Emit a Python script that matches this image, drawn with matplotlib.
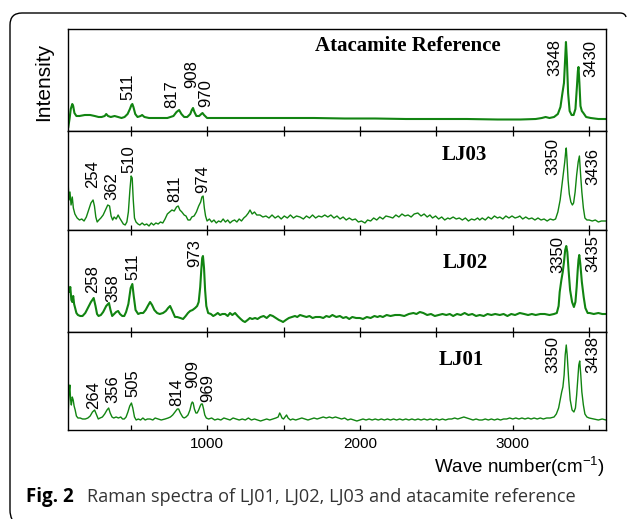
import matplotlib
matplotlib.use("Agg")
import matplotlib.pyplot as plt
import numpy as np
from matplotlib.path import Path
from matplotlib.patches import PathPatch

plt.rcParams['font.family'] = ['Liberation Sans', 'DejaVu Sans']
plt.rcParams['mathtext.fontset'] = 'custom'
plt.rcParams['mathtext.rm'] = 'Liberation Sans'
plt.rcParams['mathtext.it'] = 'Liberation Sans'

# spectra: (wave number, intensity in arbitrary units)
atacamite = [(92, 4), (100, 12), (108, 22), (118, 27), (124, 25), (132, 18), (145, 15), (165, 15), (200, 16),
             (235, 16), (265, 15), (290, 14), (310, 14), (330, 15), (340, 17), (352, 15), (370, 14), (395, 15),
             (418, 14), (440, 13), (460, 14), (480, 17), (495, 22), (505, 26), (511, 27), (518, 24), (530, 17),
             (545, 14), (565, 15), (575, 16), (590, 14), (620, 13), (680, 13), (740, 13), (780, 15), (800, 19),
             (817, 21), (832, 17), (850, 14), (870, 14), (890, 17), (900, 21), (908, 23), (917, 19), (930, 15),
             (948, 15), (962, 17), (970, 18), (980, 16), (1000, 13), (1100, 13), (1300, 13), (1500, 13),
             (1700, 13), (1900, 12.5), (2100, 12.5), (2300, 12), (2500, 12), (2700, 12), (2900, 11.5),
             (3050, 11.5), (3150, 12), (3190, 13), (3215, 14), (3240, 13), (3270, 14), (3295, 17), (3312, 24),
             (3325, 38), (3335, 48), (3342, 70), (3348, 89), (3354, 72), (3362, 38), (3372, 20), (3385, 16),
             (3398, 16), (3410, 22), (3420, 45), (3426, 60), (3430, 64), (3436, 48), (3443, 25), (3452, 20),
             (3462, 18), (3480, 14), (3510, 13), (3560, 12), (3610, 12)]

lj03 = [(92, 43), (97, 30), (103, 38), (110, 25), (118, 33), (125, 22), (135, 16), (150, 12), (165, 10), (180, 11),
        (195, 9), (210, 13), (225, 20), (240, 27), (254, 30), (263, 24), (272, 13), (281, 8), (292, 10), (305, 12),
        (320, 15), (335, 20), (350, 25), (362, 24), (372, 14), (382, 10), (392, 13), (405, 11), (418, 15),
        (428, 12), (440, 9), (452, 6), (464, 5), (475, 8), (485, 18), (495, 40), (503, 54), (510, 52), (517, 30),
        (525, 12), (535, 8), (548, 6), (560, 5), (575, 7), (590, 5), (605, 6), (620, 4), (635, 7), (650, 5),
        (665, 7), (680, 6), (695, 8), (710, 7), (725, 11), (740, 16), (755, 18), (770, 20), (785, 19), (800, 23),
        (811, 24), (822, 20), (835, 18), (850, 15), (862, 14), (875, 10), (889, 10), (900, 13), (915, 14),
        (930, 18), (945, 24), (958, 28), (966, 33), (974, 34), (982, 22), (990, 14), (1000, 9), (1015, 11),
        (1030, 8), (1045, 10), (1060, 7), (1075, 9), (1090, 8), (1105, 11), (1120, 8), (1135, 10), (1150, 7),
        (1165, 9), (1180, 10), (1195, 8), (1210, 11), (1225, 9), (1240, 12), (1255, 14), (1270, 17), (1281, 20),
        (1295, 16), (1310, 18), (1325, 15), (1346, 15), (1365, 13), (1385, 14), (1405, 12), (1425, 15),
        (1445, 12), (1465, 14), (1485, 11), (1505, 14), (1525, 12), (1545, 15), (1565, 12), (1585, 14),
        (1608, 13), (1630, 11), (1650, 14), (1670, 12), (1690, 15), (1710, 12), (1730, 14), (1750, 13),
        (1770, 15), (1790, 13), (1810, 15), (1830, 12), (1850, 14), (1870, 11), (1890, 13), (1910, 10),
        (1930, 12), (1950, 10), (1970, 11), (1990, 8), (2010, 9), (2033, 7), (2050, 10), (2070, 9), (2090, 12),
        (2110, 10), (2130, 13), (2150, 11), (2170, 14), (2196, 13), (2215, 12), (2235, 15), (2255, 13),
        (2275, 16), (2295, 14), (2315, 15), (2335, 13), (2355, 16), (2379, 17), (2400, 14), (2420, 16),
        (2440, 13), (2458, 15), (2475, 12), (2495, 14), (2515, 11), (2535, 13), (2555, 10), (2575, 12),
        (2588, 11), (2610, 13), (2630, 11), (2650, 12), (2670, 10), (2690, 12), (2710, 9), (2730, 11),
        (2750, 10), (2770, 12), (2784, 10), (2800, 12), (2820, 10), (2840, 13), (2860, 11), (2880, 14),
        (2900, 12), (2915, 13), (2935, 11), (2955, 14), (2975, 12), (2995, 14), (3015, 12), (3035, 13),
        (3046, 14), (3065, 11), (3085, 13), (3105, 11), (3125, 12), (3145, 10), (3165, 12), (3185, 10),
        (3205, 11), (3225, 9), (3245, 11), (3265, 10), (3280, 11), (3295, 18), (3310, 30), (3322, 45),
        (3332, 58), (3340, 68), (3346, 78), (3350, 82), (3355, 70), (3362, 50), (3370, 36), (3380, 28),
        (3390, 25), (3398, 27), (3408, 38), (3418, 55), (3428, 68), (3436, 74), (3444, 55), (3452, 38),
        (3462, 22), (3472, 12), (3485, 10), (3500, 10), (3520, 9), (3540, 10), (3560, 8), (3580, 9), (3610, 9)]

lj02 = [(92, 45), (98, 40), (105, 45), (112, 32), (118, 30), (124, 36), (130, 28), (137, 24), (145, 19), (155, 17),
        (170, 16), (185, 16), (203, 19), (220, 24), (240, 30), (258, 34), (270, 26), (280, 18), (290, 16),
        (305, 17), (320, 20), (340, 26), (358, 29), (368, 22), (379, 16), (392, 18), (405, 20), (418, 21),
        (430, 18), (445, 16), (458, 16), (470, 20), (485, 28), (500, 44), (511, 48), (520, 36), (532, 22),
        (549, 18), (565, 19), (582, 19), (598, 22), (612, 26), (627, 30), (640, 27), (655, 22), (673, 19),
        (690, 18), (712, 19), (730, 21), (745, 24), (758, 26), (770, 22), (790, 15), (804, 15), (825, 14),
        (843, 13), (860, 16), (875, 19), (889, 21), (905, 22), (922, 24), (935, 26), (945, 30), (955, 45),
        (962, 62), (968, 74), (973, 76), (980, 64), (987, 42), (995, 26), (1007, 19), (1025, 18), (1040, 16),
        (1052, 17), (1070, 19), (1085, 17), (1100, 18), (1118, 18), (1135, 16), (1150, 19), (1165, 17),
        (1183, 19), (1200, 16), (1220, 13), (1235, 11), (1248, 10), (1265, 12), (1280, 14), (1295, 13),
        (1314, 14), (1330, 13), (1350, 15), (1370, 16), (1390, 14), (1412, 17), (1430, 16), (1450, 14),
        (1470, 12), (1485, 11), (1497, 10), (1515, 12), (1535, 14), (1555, 15), (1575, 16), (1590, 15),
        (1608, 17), (1630, 16), (1650, 15), (1670, 16), (1690, 14), (1710, 15), (1739, 15), (1760, 14),
        (1780, 16), (1800, 15), (1820, 17), (1845, 15), (1869, 16), (1890, 14), (1910, 15), (1930, 13),
        (1950, 15), (1975, 14), (2000, 14), (2020, 13), (2045, 15), (2070, 14), (2095, 16), (2115, 15),
        (2131, 16), (2150, 15), (2175, 17), (2200, 16), (2230, 17), (2261, 17), (2290, 16), (2320, 18),
        (2350, 19), (2370, 18), (2392, 20), (2415, 19), (2440, 17), (2465, 18), (2490, 16), (2515, 17),
        (2540, 18), (2565, 17), (2588, 18), (2610, 16), (2635, 18), (2660, 17), (2685, 19), (2710, 17),
        (2735, 18), (2760, 16), (2784, 17), (2810, 16), (2835, 18), (2860, 17), (2885, 18), (2915, 17),
        (2940, 18), (2965, 16), (2990, 18), (3015, 17), (3046, 19), (3075, 18), (3100, 17), (3125, 18),
        (3150, 17), (3180, 18), (3209, 18), (3240, 17), (3270, 18), (3288, 19), (3300, 26), (3307, 40),
        (3318, 52), (3327, 60), (3335, 70), (3343, 82), (3350, 86), (3357, 80), (3365, 62), (3375, 42),
        (3388, 30), (3400, 25), (3410, 30), (3418, 45), (3425, 62), (3430, 72), (3435, 77), (3442, 68),
        (3452, 50), (3464, 35), (3475, 24), (3490, 19), (3503, 19), (3530, 18), (3560, 19), (3585, 18),
        (3610, 18)]

lj01 = [(92, 20), (97, 38), (102, 45), (107, 30), (112, 25), (118, 33), (124, 30), (130, 24), (137, 20), (145, 14),
        (155, 12), (170, 12), (185, 11), (203, 11), (220, 12), (235, 14), (250, 18), (264, 20), (275, 16),
        (288, 11), (300, 12), (315, 13), (330, 16), (345, 20), (356, 22), (366, 17), (378, 13), (389, 12),
        (405, 13), (420, 12), (435, 13), (447, 11), (458, 11), (470, 13), (482, 18), (494, 24), (505, 27),
        (514, 22), (525, 13), (536, 10), (550, 11), (565, 10), (580, 12), (595, 10), (610, 11), (627, 11),
        (645, 10), (660, 12), (680, 11), (700, 10), (725, 11), (745, 12), (760, 13), (775, 15), (790, 18),
        (805, 21), (814, 21), (825, 17), (840, 13), (850, 12), (862, 13), (875, 15), (888, 20), (897, 26),
        (903, 28), (909, 27), (917, 21), (927, 17), (935, 17), (945, 20), (955, 24), (962, 26), (969, 26),
        (977, 21), (985, 15), (995, 12), (1010, 11), (1030, 12), (1050, 10), (1070, 11), (1090, 10),
        (1110, 12), (1130, 11), (1150, 10), (1170, 12), (1190, 11), (1210, 10), (1230, 11), (1250, 10),
        (1270, 12), (1290, 10), (1310, 11), (1330, 10), (1350, 9), (1370, 10), (1390, 11), (1410, 10),
        (1430, 11), (1450, 12), (1465, 13), (1475, 17), (1482, 15), (1490, 12), (1500, 11), (1510, 13),
        (1520, 15), (1530, 12), (1545, 10), (1560, 11), (1580, 10), (1600, 11), (1620, 12), (1640, 11),
        (1660, 10), (1680, 11), (1700, 12), (1720, 11), (1740, 12), (1760, 13), (1780, 12), (1800, 13),
        (1820, 12), (1840, 13), (1860, 12), (1880, 11), (1900, 12), (1920, 10), (1940, 11), (1960, 10),
        (1980, 9), (2000, 10), (2020, 11), (2040, 10), (2060, 11), (2080, 10), (2100, 11), (2120, 10),
        (2140, 11), (2160, 10), (2180, 11), (2200, 10), (2220, 11), (2240, 10), (2260, 11), (2280, 10),
        (2300, 11), (2320, 10), (2340, 11), (2360, 10), (2380, 11), (2400, 10), (2420, 11), (2440, 10),
        (2460, 11), (2480, 10), (2500, 11), (2520, 10), (2540, 11), (2560, 10), (2580, 11), (2600, 11),
        (2620, 12), (2640, 11), (2660, 12), (2680, 13), (2700, 12), (2720, 11), (2740, 10), (2760, 11),
        (2780, 10), (2800, 10), (2820, 11), (2840, 10), (2860, 11), (2880, 10), (2900, 11), (2920, 10),
        (2940, 11), (2960, 11), (2980, 12), (3000, 11), (3020, 12), (3040, 11), (3060, 12), (3080, 11),
        (3100, 12), (3120, 11), (3140, 12), (3160, 11), (3180, 12), (3200, 11), (3222, 12), (3245, 12),
        (3270, 13), (3285, 16), (3300, 22), (3310, 30), (3320, 38), (3328, 43), (3336, 55), (3343, 75),
        (3350, 85), (3356, 75), (3366, 50), (3376, 30), (3388, 20), (3400, 18), (3410, 22), (3418, 35),
        (3426, 52), (3432, 65), (3438, 69), (3445, 55), (3452, 38), (3462, 25), (3472, 16), (3485, 13),
        (3500, 12), (3530, 11), (3560, 10), (3585, 11), (3610, 10)]

# peak labels: (text, x position, bottom of label)
atacamite_peaks = [('511', 484, 31), ('817', 771, 23), ('908', 902, 43), ('970', 993, 24),
                   ('3348', 3275, 55), ('3430', 3510, 54)]
lj03_peaks = [('254', 248, 42), ('362', 379, 30), ('510', 490, 57), ('811', 791, 28), ('974', 974, 37),
              ('3350', 3261, 55), ('3436', 3523, 45)]
lj02_peaks = [('258', 248, 39), ('358', 386, 30), ('511', 516, 52), ('973', 922, 65),
              ('3350', 3294, 59), ('3435', 3523, 60)]
lj01_peaks = [('264', 255, 21), ('356', 386, 27), ('505', 516, 33), ('814', 804, 24), ('909', 908, 42),
              ('969', 1007, 28), ('3350', 3261, 57), ('3438', 3523, 57)]

names = ['Atacamite Reference', 'LJ03', 'LJ02', 'LJ01']
name_pos = [(2314, 85), (2686, 75), (2686, 69), (2660, 70)]
spectra = [atacamite, lj03, lj02, lj01]
peaks = [atacamite_peaks, lj03_peaks, lj02_peaks, lj01_peaks]
ymax = [102, 99, 102, 98]
widths = [1.5, 1.0, 1.5, 1.0]

W, H = 629, 519
fig = plt.figure(figsize=(W / 100, H / 100), dpi=100)

# panel edges in pixels (top to bottom)
edges = [29, 131, 230, 332, 430]
green = '#118411'

for i in range(4):
    top, bot = edges[i], edges[i + 1]
    ax = fig.add_axes([68 / W, 1 - bot / H, 538 / W, (bot - top) / H])
    pts = np.array(spectra[i])
    ax.plot(pts[:, 0], pts[:, 1], color=green, lw=widths[i])
    ax.set_xlim(90, 3610)
    ax.set_ylim(0, ymax[i])
    ax.set_yticks([])
    ax.set_xticks([1000, 2000, 3000])
    ax.set_xticks([500, 1500, 2500, 3500], minor=True)
    ax.tick_params(which='both', direction='in', top=(i > 0), bottom=True, length=3.5, width=0.9,
                   labelsize=11, pad=5)
    if i < 3:
        ax.tick_params(labelbottom=False)
    for s in ax.spines.values():
        s.set_linewidth(1.0)
    for lab, x, y in peaks[i]:
        ax.text(x, y, lab, rotation=90, ha='center', va='bottom', fontsize=12)
    nx, ny = name_pos[i]
    ax.text(nx, ny, names[i], ha='center', va='center', fontsize=15, fontweight='bold',
            family='Liberation Serif')

fig.text(44 / W, 1 - 82 / H, 'Intensity', rotation=90, ha='center', va='center', fontsize=15)
fig.text(605 / W, 1 - 467 / H, 'Wave number(cm$^{\\mathregular{-1}}$)', ha='right', va='center', fontsize=13.5)

# caption
fig.text(26 / W, 1 - 497 / H, 'Fig. 2', ha='left', va='center', fontsize=13.5, fontweight='bold',
         family='Open Sans')
fig.text(87 / W, 1 - 497 / H, 'Raman spectra of LJ01, LJ02, LJ03 and atacamite reference', ha='left',
         va='center', fontsize=13.1, color='#333333', family='Open Sans')

# rounded frame (left and top edges)
verts = [(12, 519), (10, 516), (10, 510), (10, 25), (10, 13), (22, 13), (620, 13), (625, 13), (626, 17)]
codes = [Path.MOVETO, Path.CURVE3, Path.CURVE3, Path.LINETO, Path.CURVE3, Path.CURVE3, Path.LINETO,
         Path.CURVE3, Path.CURVE3]
verts = [(x / W, 1 - y / H) for x, y in verts]
fig.patches.append(PathPatch(Path(verts, codes), fill=False, lw=1.0, edgecolor='black',
                             transform=fig.transFigure))

fig.savefig('out.png', dpi=100)
